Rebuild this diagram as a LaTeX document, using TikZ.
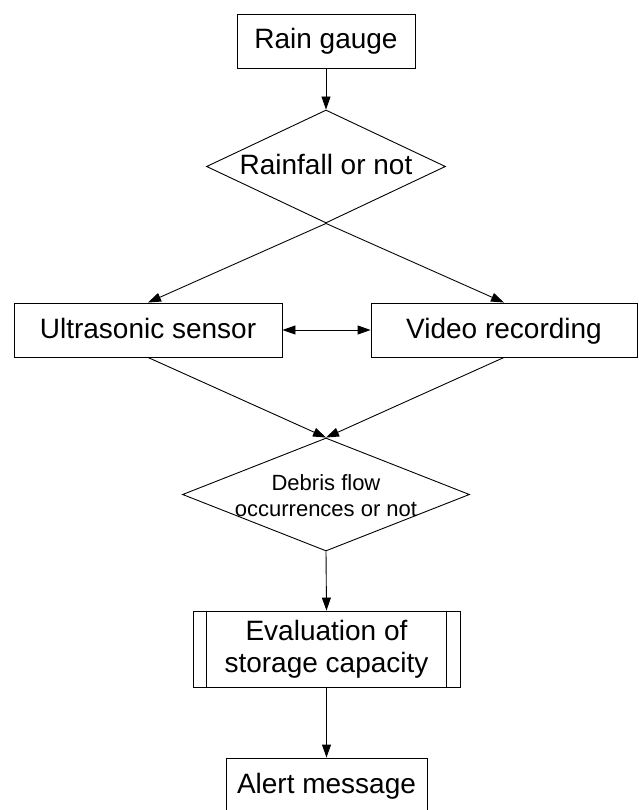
\documentclass[tikz,border=0pt]{standalone}
\usepackage{fontspec}
\setmainfont{Liberation Sans}
\usetikzlibrary{shapes.geometric,arrows.meta}

\begin{document}
\begin{tikzpicture}[x=1pt,y=-1pt,
  line width=0.9pt,
  big/.style={font=\fontsize{28}{32}\selectfont},
  small/.style={font=\fontsize{22}{26}\selectfont},
  oneline/.style={text height=20pt, text depth=4pt},
  box/.style={draw, rectangle, inner sep=0pt, align=center, big},
  dia/.style={draw, diamond, inner sep=0pt},
  flow/.style={-{Triangle[length=13pt,width=9pt]}},
  both/.style={{Triangle[length=13pt,width=9pt]}-{Triangle[length=13pt,width=9pt]}}
]
\useasboundingbox (0,0) rectangle (638,810);
\clip (0,0) rectangle (638,810);

% boxes and decisions
\node[box, oneline, minimum width=178pt, minimum height=54pt] (rain) at (326,41) {Rain gauge};

\node[dia, minimum width=239pt, minimum height=113pt] (d1) at (326,166.5) {};
\node[big, oneline, inner sep=0pt] (d1t) at (d1.center) {Rainfall or not};

\node[box, oneline, minimum width=268pt, minimum height=54pt] (us) at (148,330) {Ultrasonic sensor};
\node[box, oneline, minimum width=266pt, minimum height=54pt] (vr) at (504,330) {Video recording};

\node[dia, minimum width=287pt, minimum height=113pt] (d2) at (326,494.5) {};
\node[small, align=center, inner sep=0pt] (d2t) at ([yshift=-1.5pt]d2.center) {Debris flow\\occurrences or not};

\node[box, minimum width=267pt, minimum height=76pt] (ev) at (326.5,649) {Evaluation of\\storage capacity};
\draw ([xshift=14pt]ev.north west) -- ([xshift=14pt]ev.south west);
\draw ([xshift=-14pt]ev.north east) -- ([xshift=-14pt]ev.south east);

\node[box, oneline, minimum width=201pt, minimum height=54pt] (al) at (326.5,785) {Alert message};

% connectors
\draw[flow] (rain.south) -- (d1.north);
\draw[flow] (d1.south) -- (us.north);
\draw[flow] (d1.south) -- (vr.north);
\draw[both] (us.east) -- (vr.west);
\draw[flow] (us.south) -- (d2.north);
\draw[flow] (vr.south) -- (d2.north);
\draw[flow] (d2.south) -- (ev.north);
\draw[flow] (ev.south) -- (al.north);
\end{tikzpicture}
\end{document}
